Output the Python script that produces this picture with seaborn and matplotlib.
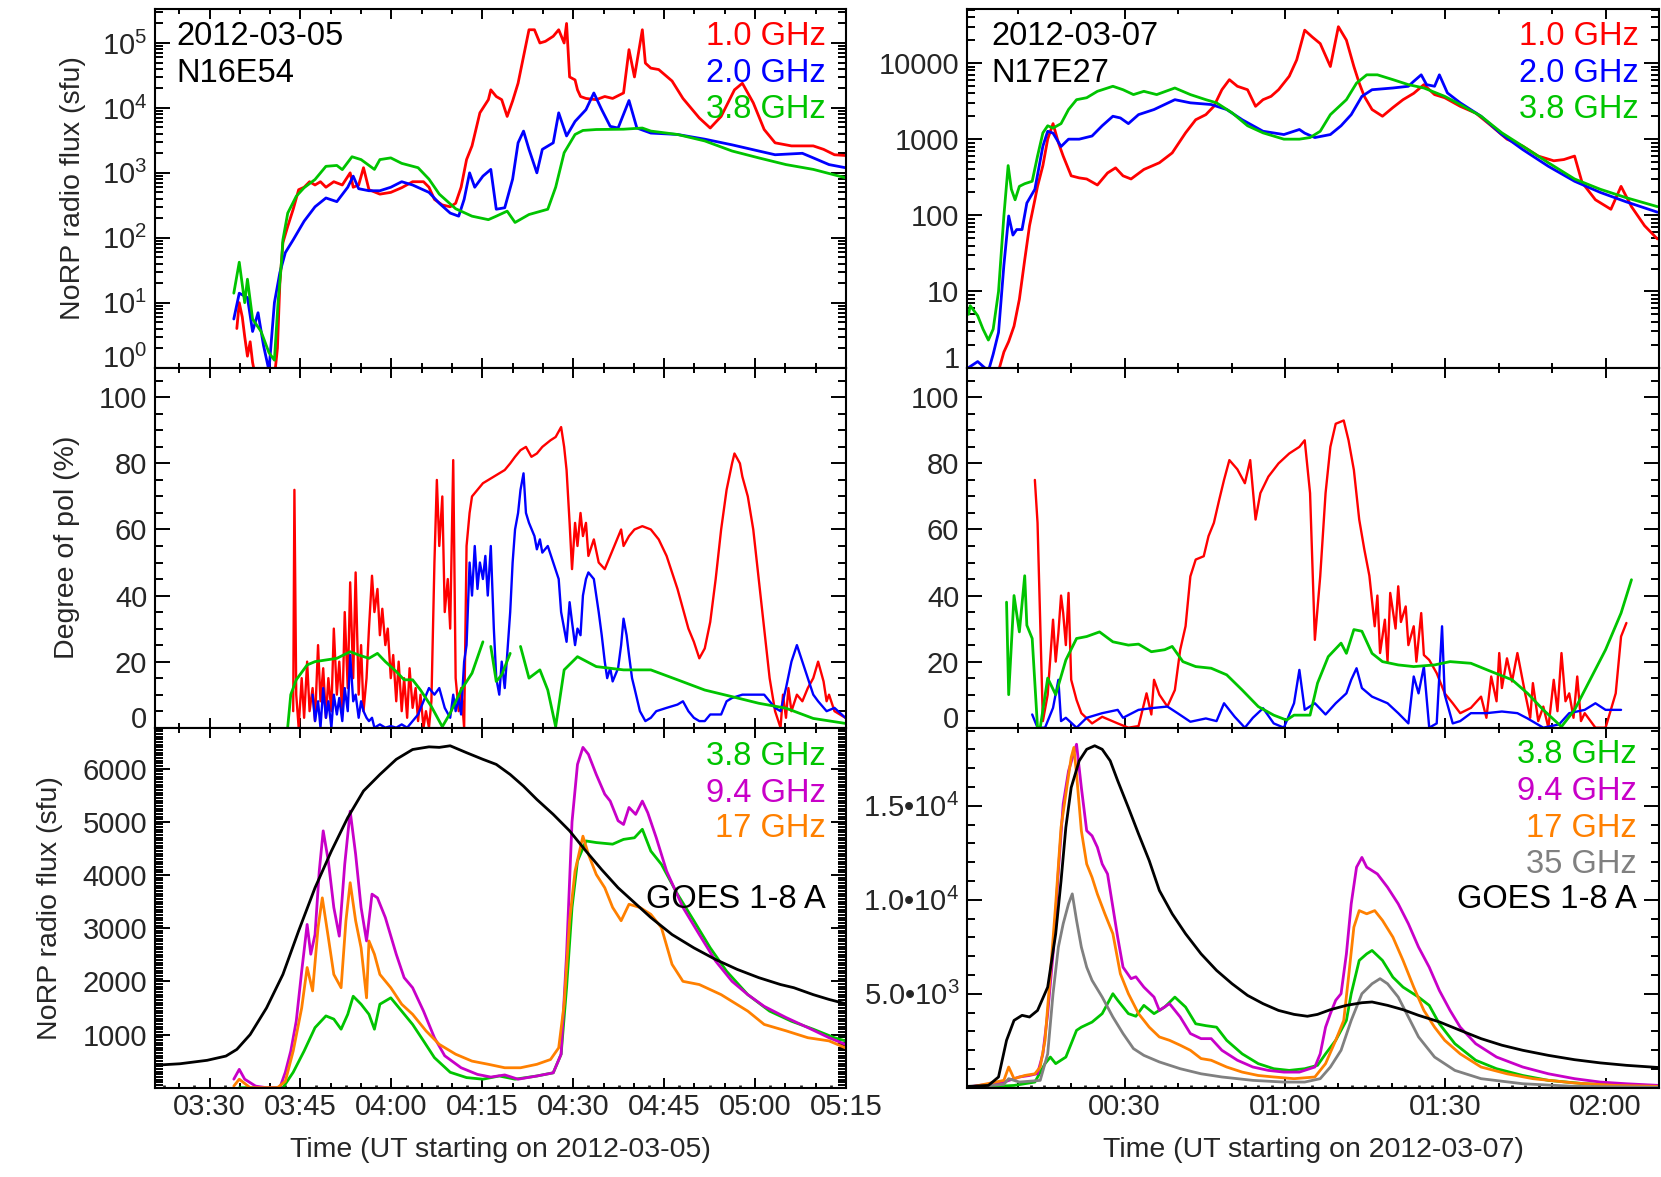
import numpy as np
import matplotlib
matplotlib.use('Agg')
import matplotlib.pyplot as plt
import matplotlib.ticker as mticker
import seaborn as sns

# ---------------- 2012-03-05, time in minutes after 03:00 UT ----------------
# NoRP flux (sfu), [t, value]
flux05_10 = [[34.5, 4], [34.9, 10], [35.4, 6], [35.8, 3], [36.25, 1.5], [36.7, 2.5], [37.1, 1.2],
             [37.6, 0.7], [38.5, 0.6], [39.4, 0.8], [40.7, 0.7], [41.2, 2], [41.6, 20], [42.1, 84],
             [42.9, 150], [43.8, 275], [44.7, 550], [45.6, 600], [46.5, 730], [47.4, 650], [48.3, 730],
             [49.2, 600], [50.5, 730], [51.9, 650], [53.2, 1000], [53.7, 600], [54.6, 650], [55.4, 1200],
             [56.3, 550], [58.1, 470], [59.9, 500], [61.7, 590], [63.5, 730], [65.3, 730], [66.2, 600],
             [67.1, 390], [68.4, 320], [69.7, 300], [70.6, 340], [71.5, 600], [72.4, 1600], [73.3, 2600],
             [74.6, 8400], [76.0, 13400], [76.4, 19000], [77.3, 15000], [78.2, 13400], [79.1, 7400],
             [80.0, 12800], [80.9, 24000], [81.8, 62000], [82.7, 1.6e5], [83.6, 1.6e5], [84.5, 1.0e5],
             [85.4, 1.06e5], [86.7, 1.27e5], [87.6, 1.6e5], [88.5, 1.0e5], [88.9, 2.0e5], [89.4, 3.0e4],
             [90.3, 2.7e4], [90.7, 1.9e4], [91.2, 1.5e4], [92.1, 1.4e4], [93.8, 1.34e4], [95.2, 1.5e4],
             [96.5, 1.4e4], [98.3, 1.7e4], [99.2, 7.9e4], [100.1, 3.0e4], [101.4, 1.6e5], [101.9, 4.9e4],
             [102.8, 4.1e4], [104.1, 3.9e4], [106.3, 2.6e4], [108.1, 1.4e4], [110.8, 7000], [112.6, 4900],
             [114.4, 7400], [116.6, 1.9e4], [117.9, 2.4e4], [119.7, 1.2e4], [121.5, 4650], [123.3, 2900],
             [126.0, 2600], [129.6, 2600], [131.3, 2300], [133.1, 1900], [134.9, 1850]]
flux05_20 = [[34.0, 5.6], [34.9, 14], [36.25, 12], [37.1, 3.6], [38.0, 7], [38.9, 2.2], [39.8, 0.9],
             [40.7, 10], [41.6, 29], [42.5, 59], [43.8, 93], [45.6, 180], [47.4, 300], [49.2, 410],
             [51.0, 360], [52.8, 600], [53.7, 890], [54.6, 570], [56.3, 530], [58.1, 530], [59.9, 600],
             [61.7, 730], [63.5, 650], [66.2, 500], [67.9, 340], [69.7, 240], [71.1, 215], [72.0, 390],
             [72.9, 1000], [73.75, 600], [75.1, 890], [76.4, 1130], [77.3, 275], [78.7, 290], [80.0, 800],
             [80.9, 2900], [81.8, 4400], [82.7, 2300], [84.0, 1000], [84.9, 2300], [86.7, 2900],
             [87.6, 8400], [88.9, 3700], [90.3, 6200], [92.1, 9400], [93.4, 1.7e4], [94.7, 9400],
             [96.1, 5200], [97.4, 4900], [99.2, 1.3e4], [100.5, 4900], [102.8, 4100], [107.2, 3900],
             [111.7, 3300], [116.2, 2700], [120.6, 2170], [123.3, 1900], [127.8, 2000], [129.6, 1700],
             [132.2, 1340], [134.9, 1200]]
flux05_38 = [[34.0, 14], [34.9, 42], [35.8, 10], [36.25, 23], [37.1, 5.6], [38.5, 3.6], [39.8, 1.7],
             [40.7, 1.3], [41.3, 10], [41.9, 46], [42.1, 93], [42.9, 240], [44.3, 435], [45.6, 590],
             [47.4, 790], [49.2, 1260], [51.0, 1300], [51.9, 1120], [53.5, 1770], [55.0, 1600],
             [57.2, 1130], [58.1, 1600], [59.9, 1700], [61.7, 1400], [64.4, 1200], [66.2, 800],
             [67.9, 470], [70.6, 280], [73.3, 215], [76.0, 190], [77.3, 215], [79.1, 257], [80.4, 172],
             [82.7, 228], [85.8, 275], [87.1, 600], [88.5, 2040], [90.3, 3900], [91.6, 4500],
             [93.8, 4650], [98.3, 4700], [101.4, 4900], [102.8, 4400], [107.2, 3900], [111.7, 3100],
             [116.2, 2170], [120.6, 1700], [125.1, 1340], [129.6, 1130], [134.9, 840]]

# degree of polarisation (%)
pol05_10 = [[43.8, 5], [44.0, 72], [44.3, 10], [44.7, 0], [45.2, 15], [45.6, 3], [46.1, 20], [46.5, 5],
            [47.0, 12], [47.4, 2], [47.9, 25], [48.3, 8], [48.75, 18], [49.2, 3], [49.6, 15], [50.1, 5],
            [50.5, 30], [51.0, 10], [51.4, 20], [51.9, 4], [52.3, 35], [52.8, 12], [53.2, 44], [53.7, 15],
            [54.1, 47], [54.6, 10], [55.0, 25], [55.4, 5], [55.9, 15], [56.3, 30], [56.8, 46], [57.2, 35],
            [57.7, 42], [58.1, 28], [58.5, 36], [59.0, 25], [59.4, 30], [59.9, 15], [60.3, 22], [60.8, 8],
            [61.2, 20], [61.7, 5], [62.1, 15], [62.6, 3], [63.0, 18], [63.5, 6], [64.0, 12], [64.4, 2],
            [64.8, 10], [65.3, 0], [65.7, 5], [66.2, 0], [66.6, 8], [67.1, 50], [67.5, 75], [67.9, 55],
            [68.4, 70], [68.8, 35], [69.3, 45], [69.7, 30], [70.2, 81], [70.6, 15], [71.1, 5], [71.5, 12],
            [72.0, 0], [72.4, 55], [72.9, 65], [73.3, 70], [74.2, 72], [75.1, 74], [76.0, 75], [76.9, 76],
            [77.8, 77], [78.7, 78], [79.6, 80], [80.4, 82], [81.3, 84], [82.2, 85], [83.1, 82], [84.0, 83],
            [84.9, 85], [86.25, 87], [87.1, 88], [88.0, 91], [88.5, 85], [88.9, 78], [89.4, 62],
            [89.8, 48], [90.3, 62], [90.7, 55], [91.2, 65], [91.6, 58], [92.1, 62], [92.5, 52],
            [93.4, 57], [94.2, 50], [95.2, 48], [96.1, 52], [97.0, 56], [97.9, 60], [98.3, 55],
            [99.2, 58], [100.1, 60], [101.4, 61], [102.8, 60], [104.1, 57], [105.4, 52], [106.3, 47],
            [107.2, 42], [108.1, 36], [109.0, 30], [109.9, 26], [110.8, 21], [111.7, 24], [112.6, 32],
            [113.5, 45], [114.4, 60], [115.3, 72], [116.2, 80], [116.6, 83], [117.5, 80], [117.9, 76],
            [118.8, 70], [119.7, 60], [120.6, 45], [121.5, 30], [122.4, 15], [123.3, 5], [124.2, 0],
            [124.6, 10], [125.1, 3], [125.5, 12], [126.0, 5], [126.9, 10], [127.8, 8], [128.7, 12],
            [129.6, 15], [130.4, 20], [131.3, 14], [131.8, 8], [132.2, 10], [133.1, 5], [134.0, 4],
            [134.9, 3]]
pol05_20 = [[47.0, 10], [47.4, 2], [47.9, 8], [48.3, 0], [48.75, 12], [49.2, 3], [49.6, 8], [50.1, 0],
            [50.5, 10], [51.0, 4], [51.4, 9], [51.9, 2], [52.3, 12], [52.8, 5], [53.2, 22], [53.7, 8],
            [54.1, 10], [54.6, 3], [55.0, 8], [55.4, 5], [55.9, 3], [56.3, 2], [56.8, 3], [57.2, 0],
            [58.1, 1], [59.0, 0], [59.9, 0.5], [60.8, 0], [61.7, 1], [62.6, 0], [63.5, 2], [64.4, 4],
            [65.3, 8], [66.2, 12], [67.1, 10], [67.9, 12], [68.8, 6], [69.7, 3], [70.2, 10], [70.6, 5],
            [71.1, 9], [71.5, 4], [72.0, 20], [72.4, 25], [72.9, 50], [73.3, 40], [73.75, 55], [74.2, 42],
            [74.6, 50], [75.1, 45], [75.5, 52], [75.9, 40], [76.4, 55], [76.9, 30], [77.3, 15], [77.8, 10],
            [78.2, 20], [78.7, 12], [79.1, 22], [79.6, 35], [80.0, 50], [80.4, 60], [80.9, 65], [81.3, 72],
            [81.8, 77], [82.2, 65], [82.7, 62], [83.6, 58], [84.0, 54], [84.5, 57], [84.9, 53], [85.8, 55],
            [86.7, 50], [87.6, 45], [88.0, 35], [88.5, 30], [88.9, 26], [89.4, 38], [89.8, 32], [90.3, 25],
            [90.7, 30], [91.2, 28], [91.6, 40], [92.1, 45], [92.5, 47], [93.4, 45], [94.2, 35], [94.7, 28],
            [95.2, 20], [95.6, 15], [96.1, 18], [96.5, 14], [97.4, 18], [97.9, 25], [98.3, 33], [98.8, 28],
            [99.2, 22], [99.7, 15], [100.1, 12], [101.0, 5], [101.9, 2], [102.8, 3], [103.7, 5], [105.4, 6],
            [107.2, 7], [108.1, 8], [109.0, 5], [109.9, 3], [110.8, 2], [111.7, 2], [112.6, 4], [114.4, 4],
            [115.3, 8], [116.2, 9], [117.9, 10], [119.7, 10], [121.5, 10], [122.4, 8], [123.3, 6],
            [124.2, 5], [125.1, 12], [126.0, 20], [126.9, 25], [127.8, 20], [128.7, 15], [129.6, 10],
            [130.4, 8], [131.8, 5], [133.1, 6], [134.9, 3]]
pol05_38_a = [[42.9, 0.3], [43.4, 10], [44.3, 14.5], [46.1, 19], [47.4, 20], [49.2, 20.5], [51.0, 21],
              [53.2, 23], [54.6, 22], [56.3, 21], [57.7, 22.5], [59.0, 20], [60.8, 17], [62.1, 14.5],
              [63.5, 14.5], [64.8, 11.4], [66.6, 6.4], [68.4, 0.3], [69.7, 4.4], [71.5, 11.4],
              [73.3, 16.5], [75.1, 26]]
pol05_38_b = [[76.4, 24.6], [77.3, 14], [78.2, 16], [79.6, 22.5]]
pol05_38_c = [[81.3, 24.6], [82.7, 15], [84.5, 17.5], [85.8, 11.4], [87.1, 0.3], [88.5, 17.5],
              [90.7, 21.5], [93.8, 18.5], [98.3, 17.5], [102.8, 17.5], [107.2, 14.5], [111.7, 11.4],
              [116.2, 9.4], [120.6, 7.4], [125.1, 5.9], [129.6, 2.8], [134.9, 1.3]]

# high-frequency flux and GOES (scaled)
hf05_38 = [[34.9, 0], [42.1, 0], [43.8, 290], [45.6, 690], [47.4, 1130], [49.2, 1350], [50.5, 1290],
           [51.7, 1100], [52.8, 1380], [53.7, 1720], [55.0, 1570], [56.3, 1380], [57.2, 1100],
           [58.1, 1570], [59.9, 1690], [61.7, 1440], [63.5, 1190], [65.3, 880], [67.1, 565], [69.7, 290],
           [72.4, 190], [75.1, 160], [77.8, 220], [80.4, 160], [84.0, 220], [86.7, 280], [88.0, 630],
           [88.9, 1880], [89.8, 3390], [90.7, 4260], [92.1, 4640], [93.8, 4610], [96.5, 4580],
           [98.3, 4670], [100.1, 4700], [101.4, 4860], [102.8, 4450], [104.55, 4200], [107.2, 3640],
           [109.9, 3140], [112.6, 2630], [115.3, 2190], [118.8, 1750], [122.4, 1440], [126.0, 1250],
           [129.6, 1100], [133.1, 940], [134.9, 880]]
hf05_94 = [[34.0, 160], [34.9, 345], [35.8, 160], [37.6, 30], [39.4, 0], [41.6, 0], [42.5, 290],
           [43.4, 690], [44.3, 1250], [45.2, 2190], [46.1, 3070], [46.7, 2510], [47.4, 2880],
           [48.1, 4075], [48.75, 4830], [49.6, 4260], [50.5, 3390], [51.4, 2850], [52.3, 4200],
           [53.2, 5200], [54.1, 4390], [55.0, 3390], [55.9, 2760], [56.8, 3640], [57.7, 3570],
           [59.0, 3200], [60.8, 2510], [62.1, 2070], [63.5, 1880], [65.3, 1440], [67.1, 940], [68.8, 600],
           [71.5, 375], [74.2, 250], [76.4, 200], [78.7, 240], [80.9, 160], [84.0, 220], [86.7, 280],
           [88.0, 630], [88.9, 2510], [89.8, 5000], [90.7, 6080], [91.6, 6400], [92.5, 6270],
           [93.8, 5890], [95.2, 5520], [96.1, 5390], [97.4, 5020], [98.3, 4950], [99.2, 5270],
           [100.3, 5140], [101.4, 5390], [102.3, 5170], [103.7, 4700], [105.4, 4075], [108.1, 3390],
           [110.8, 2880], [113.5, 2380], [116.2, 2000], [118.8, 1750], [121.5, 1530], [125.1, 1320],
           [128.7, 1130], [132.2, 940], [134.9, 815]]
hf05_17 = [[34.0, 30], [34.9, 160], [36.7, 0], [41.2, 0], [42.5, 120], [43.8, 690], [45.2, 1500],
           [46.1, 2260], [47.0, 1820], [47.9, 3010], [48.6, 3570], [49.6, 2820], [50.5, 2130],
           [51.7, 1880], [52.5, 3140], [53.2, 3855], [54.1, 3140], [55.0, 2630], [55.9, 1690],
           [56.3, 2760], [57.2, 2510], [58.1, 2130], [59.9, 1880], [61.7, 1570], [63.5, 1380],
           [65.7, 1070], [67.9, 815], [70.6, 630], [73.3, 500], [76.0, 440], [78.7, 375], [81.3, 375],
           [84.0, 440], [86.25, 530], [87.6, 750], [88.5, 1570], [89.4, 3140], [90.3, 4075],
           [91.6, 4730], [92.5, 4390], [93.8, 4010], [95.2, 3760], [96.5, 3390], [97.9, 3140],
           [99.2, 3450], [101.0, 3390], [102.8, 3260], [104.55, 3010], [106.3, 2320], [108.1, 2000],
           [110.8, 1940], [114.4, 1750], [118.8, 1440], [121.5, 1190], [125.1, 1070], [128.7, 940],
           [132.2, 880], [134.9, 750]]
goes05 = [[21.0, 420], [21.5, 426], [25.1, 450], [29.6, 515], [32.7, 595], [34.5, 720], [36.7, 1000],
          [39.4, 1500], [42.1, 2130], [44.7, 2950], [47.4, 3760], [50.1, 4450], [52.8, 5080],
          [55.4, 5580], [58.1, 5890], [60.8, 6175], [63.5, 6360], [66.2, 6410], [67.9, 6400],
          [69.7, 6430], [72.4, 6300], [75.1, 6175], [77.3, 6080], [79.6, 5890], [81.8, 5670],
          [84.0, 5420], [86.7, 5140], [89.4, 4830], [92.1, 4450], [94.7, 4100], [97.4, 3760],
          [100.1, 3480], [102.8, 3200], [106.3, 2880], [109.9, 2630], [113.5, 2410], [117.05, 2225],
          [120.6, 2070], [124.2, 1940], [126.4, 1880], [129.6, 1750], [132.2, 1660], [134.9, 1580]]

# ---------------- 2012-03-07, time in minutes after 00:00 UT ----------------
flux07_10 = [[6.4, 0.9], [7.4, 1.6], [8.3, 2.2], [9.3, 3.5], [10.3, 7.9], [11.3, 26], [12.2, 73],
             [13.2, 160], [13.7, 240], [14.7, 450], [15.6, 1000], [16.6, 1600], [17.6, 900], [18.5, 600],
             [20.0, 330], [21.5, 310], [22.9, 300], [24.9, 250], [26.8, 360], [28.3, 420], [29.7, 330],
             [31.2, 300], [33.6, 400], [36.5, 490], [38.9, 660], [41.4, 1210], [43.3, 1800], [45.2, 2100],
             [46.7, 2700], [48.2, 4460], [49.6, 6050], [51.1, 4950], [53.0, 4460], [54.5, 2700],
             [55.9, 3300], [57.4, 3650], [58.8, 4460], [60.8, 6700], [62.2, 11000], [63.7, 27000],
             [65.1, 22000], [66.6, 18000], [68.5, 9000], [70.0, 30000], [71.5, 20000], [72.9, 9000],
             [73.9, 5450], [74.85, 3650], [76.3, 2450], [78.25, 2000], [80.2, 2600], [82.1, 3300],
             [84.1, 4000], [86.0, 5200], [88.0, 3850], [89.9, 3500], [92.8, 2700], [95.7, 2200],
             [98.6, 1500], [101.55, 1000], [104.5, 810], [107.4, 600], [110.3, 520], [112.2, 540],
             [114.2, 600], [115.6, 270], [118.1, 160], [121.0, 120], [122.9, 240], [124.85, 130],
             [127.3, 73], [129.7, 49]]
flux07_20 = [[0.8, 1], [2.5, 1.2], [4.5, 0.9], [5.4, 1.5], [6.4, 2.9], [7.4, 22], [8.3, 98], [9.1, 55],
             [9.8, 65], [10.8, 65], [11.7, 145], [13.2, 220], [14.7, 810], [15.6, 1270], [16.6, 1200],
             [18.1, 800], [19.5, 1000], [21.5, 1000], [23.9, 1100], [25.8, 1500], [27.8, 2000],
             [29.2, 1900], [30.7, 1600], [32.6, 2100], [35.5, 2450], [39.4, 3300], [42.3, 3000],
             [46.2, 2850], [49.1, 2450], [52.0, 1800], [55.9, 1270], [59.8, 1150], [62.7, 1340],
             [63.7, 1200], [65.6, 1050], [68.5, 1150], [70.5, 1500], [72.4, 2100], [74.4, 3650],
             [76.3, 4460], [80.2, 4700], [83.1, 4950], [84.1, 5750], [85.5, 7000], [86.5, 5200],
             [88.0, 4950], [88.9, 7000], [90.4, 4050], [92.8, 3000], [96.7, 2000], [100.6, 1150],
             [104.5, 730], [109.3, 440], [114.2, 280], [119.0, 200], [123.9, 150], [129.7, 110]]
flux07_38 = [[0.8, 5], [1.1, 6.5], [2.5, 4.8], [3.5, 3.2], [4.5, 2.3], [5.4, 3.2], [6.4, 10], [7.4, 98],
             [8.2, 450], [8.8, 220], [9.5, 160], [10.3, 240], [11.3, 260], [12.7, 280], [13.7, 600],
             [14.7, 1210], [15.6, 1500], [16.6, 1400], [18.1, 1600], [19.5, 2450], [21.0, 3300],
             [22.9, 3500], [24.9, 4250], [27.8, 4950], [29.7, 4460], [31.65, 3850], [33.6, 4250],
             [36.0, 3850], [39.4, 4700], [42.3, 3850], [45.2, 3300], [47.2, 3000], [50.1, 2220],
             [53.0, 1500], [55.9, 1210], [59.8, 1000], [62.7, 1000], [64.7, 1050], [66.6, 1270],
             [68.5, 2100], [71.5, 3300], [73.4, 5450], [75.3, 7000], [77.3, 7000], [80.2, 6050],
             [83.1, 5200], [86.0, 4700], [89.9, 3650], [92.8, 2850], [96.7, 2000], [100.6, 1210],
             [104.5, 810], [109.3, 490], [114.2, 300], [119.0, 220], [123.9, 170], [129.7, 130]]

pol07_10 = [[13.2, 75], [13.7, 62], [14.7, 2], [15.6, 10], [16.6, 32.7], [17.1, 20], [17.6, 28.6],
            [18.1, 40], [18.5, 34.7], [19.0, 25], [19.5, 40.8], [20.0, 14.5], [21.0, 8.4], [21.9, 4.4],
            [23.9, 1.3], [25.8, 3.3], [28.7, 1.3], [30.7, 0], [32.6, 0.5], [34.1, 10.4], [35.0, 4],
            [35.5, 14.5], [36.5, 10], [38.0, 6.4], [39.4, 11.4], [40.4, 23.6], [41.4, 30.7], [42.3, 45.8],
            [43.3, 50.9], [44.8, 51.9], [45.7, 58], [46.7, 62], [47.7, 69], [48.6, 75], [49.6, 81],
            [51.1, 78.2], [52.5, 74], [53.5, 81], [54.5, 63], [55.4, 71], [56.9, 76], [58.8, 80],
            [60.8, 83], [62.7, 85], [63.7, 87], [64.7, 71], [65.6, 26.6], [66.6, 45.8], [67.6, 71],
            [68.5, 85], [69.5, 92], [71.0, 93], [71.9, 87], [72.9, 78], [73.9, 63], [74.85, 54],
            [75.8, 46], [76.8, 30.7], [77.3, 40], [77.8, 22.6], [78.7, 32.7], [79.2, 20], [79.7, 40.8],
            [80.7, 30], [81.2, 42.8], [81.7, 32], [82.6, 36.7], [83.1, 25], [84.1, 30.7], [84.6, 20],
            [85.5, 34.7], [86.0, 22], [87.0, 20.5], [88.4, 16.5], [89.9, 10.4], [91.4, 7.4], [92.8, 4.4],
            [94.8, 6], [96.7, 9.4], [97.7, 3], [98.6, 15.5], [99.6, 8], [100.1, 22.6], [100.6, 12],
            [101.55, 21], [102.5, 14], [103.5, 22.6], [104.95, 10.4], [105.9, 3], [106.4, 13.5],
            [107.4, 2], [108.35, 6.4], [109.3, 0], [110.3, 14.5], [111.0, 5], [111.75, 22.6],
            [112.5, 8], [113.2, 10.4], [114.0, 3], [114.7, 15.5], [115.4, 2], [116.1, 4.4], [118.1, 0],
            [120.0, 0], [121.9, 10.4], [122.9, 27.6], [123.9, 31.7]]
pol07_20 = [[12.7, 4], [13.7, 0], [15.1, 0], [16.6, 6], [17.6, 14.5], [18.1, 2], [19.0, 3], [21.0, 0],
            [22.9, 3], [25.8, 4.4], [28.7, 5.4], [29.7, 3], [32.6, 5.4], [35.5, 6], [38.0, 6.4],
            [39.9, 4.4], [42.3, 1.8], [45.2, 2.8], [47.2, 2], [48.6, 7.4], [50.6, 3.3], [52.5, 0],
            [54.0, 3], [55.9, 5.9], [57.9, 1.3], [59.8, 0], [61.7, 7.4], [62.7, 17.5], [63.7, 5.4],
            [65.6, 7.4], [67.6, 4], [69.5, 7.4], [71.5, 10.4], [72.4, 14.5], [73.4, 18], [74.4, 12],
            [76.3, 9.4], [79.2, 7.4], [81.2, 4.4], [83.1, 1.3], [84.1, 15.5], [85.0, 10.4], [86.0, 18.5],
            [87.0, 0], [88.4, 1.3], [89.4, 30.7], [89.9, 10], [91.4, 1.3], [92.8, 2], [94.8, 4.4],
            [97.7, 4.4], [100.6, 4.9], [103.5, 4.4], [105.4, 2.8], [108.35, 0], [111.3, 1],
            [113.2, 4.4], [116.1, 5.4], [118.1, 7.4], [120.0, 5.4], [122.9, 5.4]]
pol07_38 = [[7.9, 38], [8.3, 10], [9.3, 40], [10.3, 29], [11.3, 46], [11.7, 31], [12.7, 27], [13.7, 0],
            [14.2, 0], [15.6, 15], [17.1, 10], [19.0, 20.5], [21.0, 27], [22.9, 27.6], [25.3, 29],
            [27.8, 26], [30.7, 25], [32.6, 25.3], [35.0, 23], [37.5, 23.6], [38.9, 24.6], [40.9, 20],
            [43.3, 18.5], [46.2, 18], [49.1, 16], [52.0, 11.4], [55.0, 6.4], [57.9, 3.8], [60.3, 2.3],
            [61.7, 3.8], [64.7, 3.8], [66.1, 13.5], [68.1, 21.5], [70.5, 25.6], [71.5, 22.5],
            [72.9, 29.7], [74.4, 29.2], [76.3, 22.5], [78.25, 20], [81.2, 19], [84.1, 18.5], [88.0, 19],
            [90.9, 20], [94.8, 19.5], [98.6, 17], [102.5, 14.5], [105.4, 10.4], [108.35, 5.4],
            [111.75, 0.3], [114.2, 5.4], [117.1, 14.5], [120.0, 23.6], [122.9, 34.7], [124.85, 44.8]]

hf07_38 = [[0.6, 0], [9.3, 120], [13.2, 300], [15.1, 1280], [16.1, 1630], [17.1, 1280], [19.0, 1630],
           [21.0, 3050], [21.9, 3220], [23.9, 3490], [25.8, 3940], [27.8, 5000], [28.7, 4650],
           [30.7, 3940], [32.1, 3800], [33.6, 4380], [35.5, 3940], [37.5, 4290], [39.4, 4820],
           [41.4, 4290], [43.3, 3400], [45.2, 3300], [47.2, 3220], [49.1, 2520], [52.0, 1800],
           [55.0, 1280], [57.9, 1010], [60.8, 920], [63.7, 1010], [66.1, 1190], [67.6, 1800],
           [69.5, 2520], [71.5, 3580], [72.4, 5000], [73.9, 6770], [75.3, 7120], [76.3, 7300],
           [78.25, 6770], [80.2, 5880], [82.1, 5350], [85.0, 4820], [87.0, 4380], [88.9, 3400],
           [91.8, 2340], [95.7, 1460], [99.6, 1010], [104.5, 650], [109.3, 390], [116.1, 210],
           [123.9, 120], [130.1, 70]]
hf07_94 = [[0.6, 35], [7.4, 300], [10.3, 570], [12.2, 650], [13.7, 750], [14.7, 1800], [15.6, 3940],
           [16.6, 7120], [17.6, 11550], [18.5, 15090], [19.5, 16850], [21.0, 18270], [21.9, 15970],
           [22.9, 13670], [23.9, 13400], [24.9, 12790], [25.8, 11900], [26.8, 11370], [27.8, 9600],
           [28.7, 8000], [29.7, 6410], [31.2, 5800], [32.1, 5900], [33.6, 5350], [35.5, 4820],
           [36.5, 4110], [38.4, 4470], [40.4, 3760], [42.3, 2880], [44.3, 2610], [46.2, 2610],
           [48.2, 1990], [51.1, 1460], [54.0, 1100], [56.9, 920], [59.8, 830], [62.7, 830],
           [65.6, 1100], [66.6, 1800], [67.6, 3220], [68.5, 3940], [69.5, 4650], [70.5, 5000],
           [71.5, 7120], [72.4, 9780], [73.4, 11730], [74.4, 12250], [75.3, 11730], [77.3, 11370],
           [79.2, 10660], [81.2, 9780], [83.1, 8720], [85.0, 7480], [87.0, 6410], [88.9, 5170],
           [90.9, 4110], [92.8, 3220], [95.7, 2340], [99.6, 1630], [104.5, 1100], [109.3, 740],
           [114.2, 480], [119.0, 300], [123.9, 210], [130.1, 120]]
hf07_17 = [[0.6, 0], [7.4, 390], [8.3, 1100], [9.3, 480], [11.3, 650], [13.2, 740], [14.2, 1100],
           [15.1, 2520], [16.1, 6060], [17.1, 9780], [18.1, 13850], [19.0, 15620], [20.0, 17570],
           [20.5, 18100], [21.0, 16680], [21.9, 13670], [22.9, 11900], [23.9, 11190], [24.9, 10300],
           [26.3, 9250], [27.8, 8190], [29.2, 6060], [30.7, 5000], [32.6, 3940], [34.6, 3220],
           [36.5, 2700], [38.4, 2520], [40.4, 2260], [42.3, 1990], [44.3, 1550], [46.2, 1460],
           [49.1, 1100], [52.0, 830], [55.0, 650], [57.9, 570], [61.7, 480], [65.6, 570], [67.6, 1280],
           [69.5, 2520], [71.0, 3580], [71.9, 5880], [72.9, 8540], [73.9, 9420], [75.3, 9250],
           [76.8, 9420], [78.25, 8900], [80.2, 8010], [82.1, 6770], [84.1, 5350], [86.0, 4110],
           [88.0, 3220], [89.9, 2520], [92.8, 1800], [96.7, 1100], [101.55, 740], [106.4, 480],
           [114.2, 250], [121.9, 120], [130.1, 70]]
hf07_35 = [[0.6, 0], [7.4, 180], [8.3, 480], [10.3, 300], [14.2, 390], [15.6, 1800], [16.6, 5000],
           [17.6, 7480], [18.5, 8720], [19.5, 9780], [20.2, 10310], [21.0, 8900], [21.9, 7480],
           [22.9, 6410], [23.9, 5710], [25.8, 4820], [27.8, 3760], [29.7, 2880], [31.65, 2080],
           [33.6, 1720], [36.5, 1370], [40.4, 1010], [44.3, 740], [48.2, 570], [54.0, 390], [59.8, 300],
           [63.7, 300], [66.6, 480], [68.5, 1100], [70.5, 1990], [72.4, 3580], [74.4, 5000],
           [76.3, 5530], [77.8, 5800], [79.2, 5530], [81.2, 4820], [83.1, 3760], [85.0, 2700],
           [88.0, 1630], [91.8, 920], [96.7, 480], [104.5, 210], [114.2, 70], [130.1, 20]]
goes07 = [[0.6, 70], [4.5, 120], [6.4, 570], [7.9, 2520], [9.3, 3580], [10.8, 3850], [12.2, 3760],
          [13.7, 4110], [15.6, 5350], [17.1, 8190], [18.1, 11000], [19.0, 13850], [20.0, 15970],
          [21.5, 17390], [22.9, 18000], [24.4, 18190], [25.8, 18000], [27.3, 17390], [28.7, 16330],
          [30.7, 14900], [32.6, 13500], [34.6, 12080], [36.5, 10490], [38.9, 9250], [41.4, 8190],
          [44.3, 7120], [47.2, 6240], [50.1, 5530], [53.0, 4910], [55.9, 4470], [58.8, 4110],
          [61.7, 3900], [64.2, 3800], [66.1, 3900], [68.5, 4150], [71.5, 4380], [74.4, 4520],
          [76.3, 4560], [79.2, 4380], [82.1, 4150], [85.0, 3850], [88.9, 3500], [92.8, 3050],
          [96.7, 2610], [100.6, 2260], [104.5, 1990], [109.3, 1720], [114.2, 1490], [119.0, 1320],
          [123.9, 1190], [130.1, 1070]]

RED, BLUE, GREEN = '#ff0000', '#0000ff', '#00c400'
MAGENTA, ORANGE, GRAY = '#c800c8', '#ff8000', '#808080'

sns.set_style('ticks')
plt.rcParams['font.family'] = ['Liberation Sans', 'DejaVu Sans']
plt.rcParams['mathtext.fontset'] = 'custom'
plt.rcParams['mathtext.rm'] = 'Liberation Sans'
plt.rcParams['mathtext.default'] = 'regular'
plt.rcParams['axes.linewidth'] = 1.5
plt.rcParams['axes.edgecolor'] = 'black'

W, H = 1661, 1177
fig = plt.figure(figsize=(W / 100, H / 100), dpi=100)


def box(x0, x1, y0, y1):
    return [x0 / W, 1 - y1 / H, (x1 - x0) / W, (y1 - y0) / H]


cols = [(155, 846), (967, 1659)]
rows = [(8.5, 367.6), (367.6, 727.7), (727.7, 1087.7)]
axes = [[fig.add_axes(box(*c, *r)) for c in cols] for r in rows]


def curve(ax, pts, color, lw=2.0):
    a = np.asarray(pts, dtype=float)
    sns.lineplot(x=a[:, 0], y=a[:, 1], ax=ax, color=color, lw=lw,
                 estimator=None, sort=False, errorbar=None)


def hhmm(offset):
    return mticker.FuncFormatter(
        lambda v, p: f'{int(offset + v // 60):02d}:{int(round(v % 60)):02d}')


def base_style(ax, xlim, major, minor):
    ax.set_xlim(*xlim)
    ax.xaxis.set_major_locator(mticker.MultipleLocator(major))
    ax.xaxis.set_minor_locator(mticker.MultipleLocator(minor))
    ax.tick_params(which='both', direction='in', top=True, right=True,
                   labelsize=21, width=1.4, color='black')
    ax.tick_params(axis='x', which='major', length=7.5, pad=4)
    ax.tick_params(axis='x', which='minor', length=3.8)
    ax.tick_params(axis='y', which='major', length=10.5, pad=5.5)
    ax.tick_params(axis='y', which='minor', length=5.5)
    ax.set_xlabel('')
    ax.set_ylabel('')


def edge_label(ax, y, s):
    ax.text(-0.011, y, s, transform=ax.get_yaxis_transform(), ha='right',
            va='baseline', fontsize=21)


def note(ax, x, y, s, color='black', ha='right'):
    ax.text(x, y, s, transform=ax.transAxes, ha=ha, va='baseline',
            fontsize=23.5, color=color)


# ---- top row: total flux ----
ax = axes[0][0]
curve(ax, flux05_10, RED)
curve(ax, flux05_20, BLUE)
curve(ax, flux05_38, GREEN)
ax.set_yscale('log')
ax.set_ylim(1, 3.4e5)
ax.yaxis.set_major_locator(mticker.LogLocator(base=10, numticks=10))
ax.yaxis.set_minor_locator(mticker.LogLocator(base=10, subs=np.arange(2, 10), numticks=20))
ax.yaxis.set_major_formatter(mticker.FuncFormatter(
    lambda v, p: '' if v < 1.5 else f'10$^{{{int(round(np.log10(v)))}}}$'))
base_style(ax, (21, 135), 15, 5)
edge_label(ax, 1, '10$^{0}$')
ax.set_ylabel('NoRP radio flux (sfu)', fontsize=20.5, va='center')
ax.yaxis.set_label_coords(-0.119, 0.5)
note(ax, 0.031, 0.899, '2012-03-05', ha='left')
note(ax, 0.031, 0.796, 'N16E54', ha='left')
note(ax, 0.971, 0.899, '1.0 GHz', RED)
note(ax, 0.971, 0.796, '2.0 GHz', BLUE)
note(ax, 0.971, 0.694, '3.8 GHz', GREEN)

ax = axes[0][1]
curve(ax, flux07_10, RED)
curve(ax, flux07_20, BLUE)
curve(ax, flux07_38, GREEN)
ax.set_yscale('log')
ax.set_ylim(1, 5.2e4)
ax.yaxis.set_major_locator(mticker.LogLocator(base=10, numticks=10))
ax.yaxis.set_minor_locator(mticker.LogLocator(base=10, subs=np.arange(2, 10), numticks=20))
ax.yaxis.set_major_formatter(mticker.FuncFormatter(
    lambda v, p: '' if v < 1.5 else f'{int(round(v))}'))
base_style(ax, (0.5, 130), 30, 10)
edge_label(ax, 1, '1')
note(ax, 0.035, 0.899, '2012-03-07', ha='left')
note(ax, 0.035, 0.796, 'N17E27', ha='left')
note(ax, 0.971, 0.899, '1.0 GHz', RED)
note(ax, 0.971, 0.796, '2.0 GHz', BLUE)
note(ax, 0.971, 0.694, '3.8 GHz', GREEN)

# ---- middle row: degree of polarisation ----
for j, (p10, p20, p38) in enumerate([(pol05_10, pol05_20, [pol05_38_a, pol05_38_b, pol05_38_c]),
                                     (pol07_10, pol07_20, [pol07_38])]):
    ax = axes[1][j]
    curve(ax, p10, RED, lw=1.7)
    curve(ax, p20, BLUE, lw=1.7)
    for seg in p38:
        curve(ax, seg, GREEN)
    ax.set_ylim(0, 109)
    ax.yaxis.set_major_locator(mticker.FixedLocator([0, 20, 40, 60, 80, 100]))
    ax.yaxis.set_minor_locator(mticker.MultipleLocator(5))
    ax.yaxis.set_major_formatter(mticker.FuncFormatter(
        lambda v, p: '' if v < 1 else f'{int(v)}'))
    if j == 0:
        base_style(ax, (21, 135), 15, 5)
        ax.set_ylabel('Degree of pol (%)', fontsize=20.5, va='center')
        ax.yaxis.set_label_coords(-0.128, 0.5)
    else:
        base_style(ax, (0.5, 130), 30, 10)
    edge_label(ax, 0, '0')

for j in range(2):
    axes[0][j].tick_params(labelbottom=False)
    axes[1][j].tick_params(labelbottom=False)

# ---- bottom row: high-frequency flux + GOES ----
ax = axes[2][0]
curve(ax, hf05_38, GREEN)
curve(ax, hf05_94, MAGENTA)
curve(ax, hf05_17, ORANGE)
curve(ax, goes05, 'black')
ax.set_ylim(0, 6770)
ax.yaxis.set_major_locator(mticker.FixedLocator([1000, 2000, 3000, 4000, 5000, 6000]))
ax.yaxis.set_minor_locator(mticker.MultipleLocator(50))
base_style(ax, (21, 135), 15, 5)
ax.xaxis.set_major_formatter(hhmm(3))
ax.set_ylabel('NoRP radio flux (sfu)', fontsize=20.5, va='center')
ax.yaxis.set_label_coords(-0.152, 0.5)
ax.set_xlabel('Time (UT starting on 2012-03-05)', fontsize=20.5)
ax.xaxis.set_label_coords(0.5, -0.137)
note(ax, 0.971, 0.896, '3.8 GHz', GREEN)
note(ax, 0.971, 0.794, '9.4 GHz', MAGENTA)
note(ax, 0.971, 0.697, '17 GHz', ORANGE)
note(ax, 0.971, 0.498, 'GOES 1-8 A')
dots = [v for v in np.arange(22.5, 135, 2.5) if v % 5]
sec = ax.secondary_xaxis('bottom')
sec.xaxis.set_major_locator(mticker.FixedLocator(dots))
sec.tick_params(direction='in', length=2.2, width=2.0, labelbottom=False)
sec.spines['bottom'].set_visible(False)

ax = axes[2][1]
curve(ax, hf07_38, GREEN)
curve(ax, hf07_94, MAGENTA)
curve(ax, hf07_17, ORANGE)
curve(ax, hf07_35, GRAY)
curve(ax, goes07, 'black')
ax.set_ylim(0, 19150)
ax.yaxis.set_major_locator(mticker.FixedLocator([5000, 10000, 15000]))
ax.yaxis.set_minor_locator(mticker.MultipleLocator(1000))
sci_labels = {5000: '5.0\u202210$^{3}$', 10000: '1.0\u202210$^{4}$', 15000: '1.5\u202210$^{4}$'}
ax.yaxis.set_major_formatter(mticker.FuncFormatter(lambda v, p: sci_labels.get(int(round(v)), '')))
base_style(ax, (0.5, 130), 30, 10)
ax.xaxis.set_major_formatter(hhmm(0))
ax.set_xlabel('Time (UT starting on 2012-03-07)', fontsize=20.5)
ax.xaxis.set_label_coords(0.5, -0.137)
note(ax, 0.968, 0.901, '3.8 GHz', GREEN)
note(ax, 0.968, 0.799, '9.4 GHz', MAGENTA)
note(ax, 0.968, 0.697, '17 GHz', ORANGE)
note(ax, 0.968, 0.597, '35 GHz', GRAY)
note(ax, 0.968, 0.498, 'GOES 1-8 A')
dots = [v for v in np.arange(2.5, 130, 2.5) if v % 10]
sec = ax.secondary_xaxis('bottom')
sec.xaxis.set_major_locator(mticker.FixedLocator(dots))
sec.tick_params(direction='in', length=2.2, width=2.0, labelbottom=False)
sec.spines['bottom'].set_visible(False)

fig.savefig('out.png', dpi=100)
